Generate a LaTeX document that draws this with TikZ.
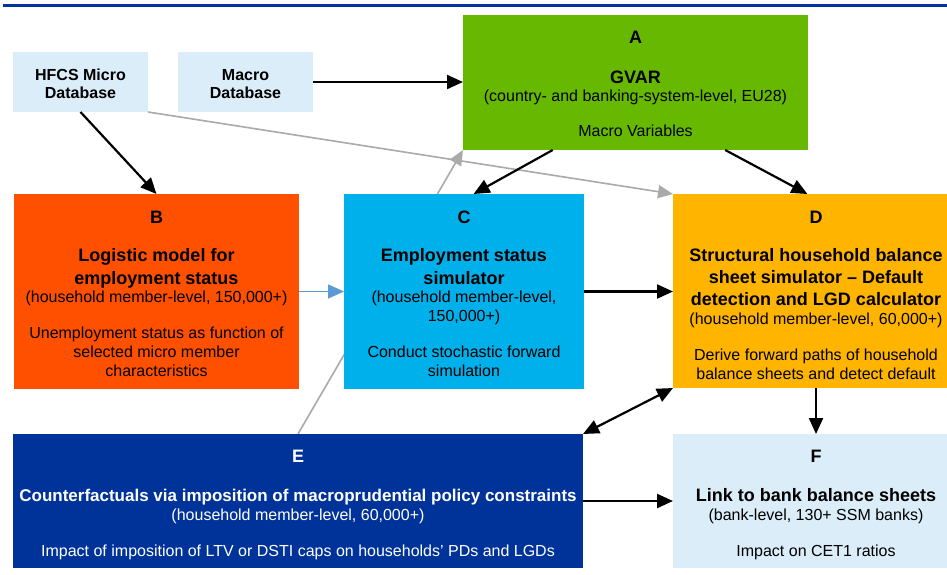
\documentclass[tikz,border=0pt]{standalone}
\usepackage{fontspec}
\setmainfont{Liberation Sans}
\usetikzlibrary{arrows.meta,calc,backgrounds}
\definecolor{cA}{RGB}{102,185,0}
\definecolor{cB}{RGB}{255,80,0}
\definecolor{cC}{RGB}{0,176,234}
\definecolor{cD}{RGB}{255,180,0}
\definecolor{cE}{RGB}{0,51,153}
\definecolor{cF}{RGB}{218,237,248}
\definecolor{cGray}{RGB}{170,170,170}
\definecolor{cLink}{RGB}{91,155,213}
\definecolor{cRule}{RGB}{0,51,160}
\begin{document}
\begin{tikzpicture}[x=1pt,y=-1pt,
  box/.style={rectangle, inner sep=0pt, outer sep=0pt, draw=none},
  ttl/.style={font=\fontsize{18}{22}\selectfont\bfseries, anchor=base, inner sep=0pt},
  info/.style={font=\fontsize{16}{19}\selectfont, anchor=base, inner sep=0pt},
  dbt/.style={font=\fontsize{16}{19}\selectfont\bfseries, anchor=base, inner sep=0pt},
  arr/.style={-{Triangle[length=16pt,width=14pt]}, line width=2.2pt, black},
  darr/.style={{Triangle[length=16pt,width=14pt]}-{Triangle[length=16pt,width=14pt]}, line width=2.2pt, black},
  garr/.style={-{Triangle[length=15pt,width=13pt]}, line width=1.6pt, cGray},
  larr/.style={-{Triangle[length=16pt,width=14pt]}, line width=1.6pt, cLink}]
\useasboundingbox (0,0) rectangle (947,574);
\draw[cRule, line width=2.5pt] (3,5.5) -- (947,5.5);

% boxes
\node[box, fill=cF, minimum width=135pt, minimum height=60pt] (hfcs) at (80.5,82) {};
\node[box, fill=cF, minimum width=135pt, minimum height=60pt] (macro) at (245.5,82) {};
\node[box, fill=cA, minimum width=345pt, minimum height=135pt] (A) at (635.5,82.5) {};
\node[box, fill=cB, minimum width=285pt, minimum height=195pt] (B) at (156.5,291.5) {};
\node[box, fill=cC, minimum width=240pt, minimum height=195pt] (C) at (464,291.5) {};
\node[box, fill=cD, minimum width=286pt, minimum height=194pt] (D) at (816,291) {};
\node[box, fill=cE, minimum width=570pt, minimum height=134pt] (E) at (298,501) {};
\node[box, fill=cF, minimum width=286pt, minimum height=134pt] (F) at (816,501) {};

% texts
\node[dbt] (hfcs1) at (80.5,80) {HFCS Micro};
\node[dbt] (hfcs2) at (80.5,98) {Database};
\node[dbt] (macro1) at (245.5,80) {Macro};
\node[dbt] (macro2) at (245.5,98) {Database};

\node[ttl] (a0) at (635.5,43) {A};
\node[ttl] (a1) at (635.5,83) {GVAR};
\node[info] (a2) at (635.5,101) {(country- and banking-system-level, EU28)};
\node[info] (a3) at (635.5,136) {Macro Variables};

\node[ttl] (b0) at (156.5,223) {B};
\node[ttl] (b1) at (156.5,261) {Logistic model for};
\node[ttl] (b2) at (156.5,284) {employment status};
\node[info] (b3) at (156.5,302) {(household member-level, 150,000+)};
\node[info] (b4) at (156.5,338) {Unemployment status as function of};
\node[info] (b5) at (156.5,357) {selected micro member};
\node[info] (b6) at (156.5,376) {characteristics};

\node[ttl] (c0) at (464,223) {C};
\node[ttl] (c1) at (464,261) {Employment status};
\node[ttl] (c2) at (464,284) {simulator};
\node[info] (c3) at (464,302) {(household member-level,};
\node[info] (c4) at (464,321) {150,000+)};
\node[info] (c5) at (464,357) {Conduct stochastic forward};
\node[info] (c6) at (464,376) {simulation};

\node[ttl] (d0) at (816,223) {D};
\node[ttl] (d1) at (816,261) {Structural household balance};
\node[ttl] (d2) at (816,283) {sheet simulator -- Default};
\node[ttl] (d3) at (816,305) {detection and LGD calculator};
\node[info] (d4) at (816,324) {(household member-level, 60,000+)};
\node[info] (d5) at (816,360) {Derive forward paths of household};
\node[info] (d6) at (816,379) {balance sheets and detect default};

\node[ttl, text=white] (e0) at (298,462) {E};
\node[ttl, text=white, font=\fontsize{17}{21}\selectfont\bfseries] (e1) at (298,501) {Counterfactuals via imposition of macroprudential policy constraints};
\node[info, text=white] (e2) at (298,520) {(household member-level, 60,000+)};
\node[info, text=white] (e3) at (298,556) {Impact of imposition of LTV or DSTI caps on households’ PDs and LGDs};

\node[ttl] (f0) at (816,462) {F};
\node[ttl] (f1) at (816,501) {Link to bank balance sheets};
\node[info] (f2) at (816,520) {(bank-level, 130+ SSM banks)};
\node[info] (f3) at (816,556) {Impact on CET1 ratios};

% connectors
\begin{pgfonlayer}{background}
\fill[white] (0,0) rectangle (947,574);
\draw[garr] (E.north) -- (A.south west);
\end{pgfonlayer}
\draw[garr] (hfcs.south east) -- (D.north west);
\draw[arr] (macro.east) -- (macro.east -| A.west);
\draw[arr] (hfcs.south) -- (B.north);
\draw[arr] ($(A.south west)!0.26!(A.south east)$) -- ($(C.north west)!0.54!(C.north east)$);
\draw[arr] ($(A.south west)!0.76!(A.south east)$) -- ($(D.north west)!0.47!(D.north east)$);
\draw[larr] (B.east) -- (B.east -| C.west);
\draw[arr] (C.east) -- (C.east -| D.west);
\draw[darr] (E.north east) -- (D.south west);
\draw[arr] (D.south) -- (F.north);
\draw[arr] (E.east) -- (E.east -| F.west);
\end{tikzpicture}
\end{document}
